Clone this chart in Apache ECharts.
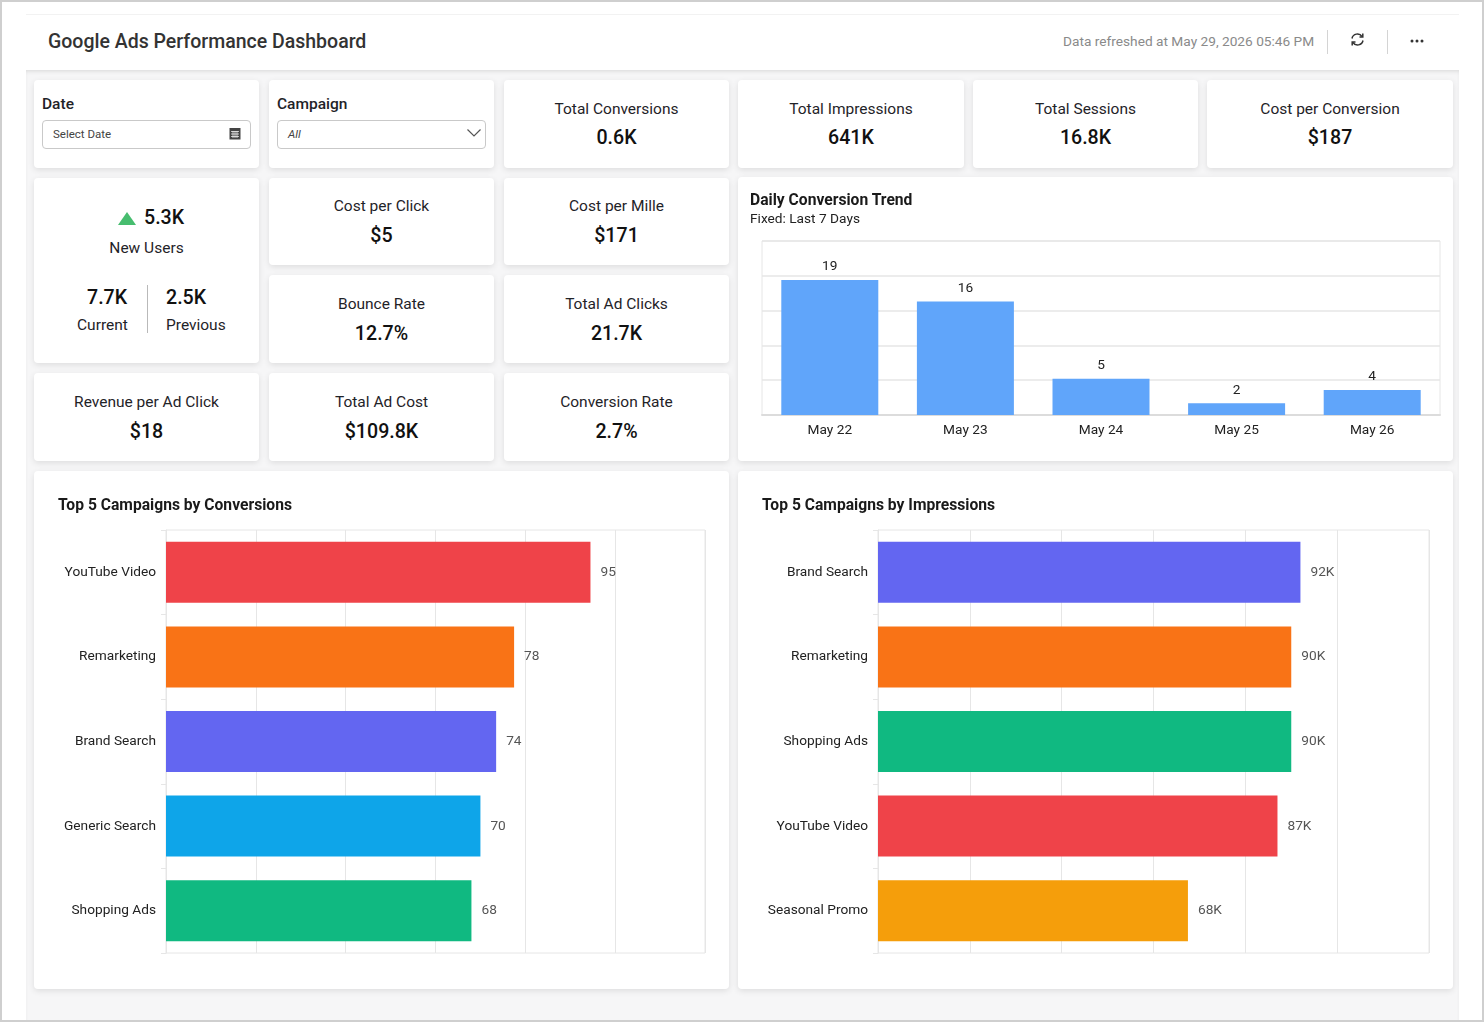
<!DOCTYPE html>
<html>
<head>
<meta charset="utf-8">
<title>Google Ads Performance Dashboard</title>
<script src="https://cdn.jsdelivr.net/npm/echarts@6/dist/echarts.min.js"></script>
<style>
	* { box-sizing: border-box; }
	html, body { margin: 0; padding: 0; background: #fff; }
	body { width: 1484px; height: 1022px; position: relative; overflow: hidden; font-family: Roboto, sans-serif; color: #1f2328; }
	.frame { position: absolute; left: 0; top: 0; width: 1484px; height: 1022px; border: 2px solid #cfcfcf; z-index: 9; pointer-events: none; }
	.topline { position: absolute; left: 26px; top: 14px; width: 1433px; height: 1px; background: #f2f2f2; }
	.content { position: absolute; left: 26px; top: 70px; width: 1433px; height: 950px; background: #f6f6f7; box-shadow: inset 0 3px 4px -2px #d6d6d6; }
	.title { position: absolute; left: 48px; top: 30px; font-size: 19.5px; font-weight: 500; color: #333; line-height: 24px; white-space: nowrap; }
	.refreshed { position: absolute; left: 1063px; top: 33px; font-size: 13.7px; color: #8a8a8a; line-height: 17px; white-space: nowrap; }
	.sep { position: absolute; top: 30px; width: 1px; height: 24px; background: #d4d4d4; }
	.card { position: absolute; background: #fff; border-radius: 4px; box-shadow: 0 2px 6px rgba(0, 0, 0, 0.1); }
	.kpi { text-align: center; }
	.kpi .name { position: absolute; left: 0; right: 0; font-size: 15.5px; line-height: 18px; }
	.kpi .val { position: absolute; left: 0; right: 0; font-size: 19.6px; font-weight: 500; line-height: 25px; color: #111; }
	.label { position: absolute; left: 8px; top: 15px; font-size: 15.5px; font-weight: 500; line-height: 18px; }
	.field { position: absolute; left: 8px; top: 40px; width: 209px; height: 29px; border: 1px solid #c9c9c9; border-radius: 4px; font-size: 11.5px; line-height: 27px; padding-left: 10px; color: #444; }
	.abs { position: absolute; white-space: nowrap; line-height: 20px; }
	.big { font-size: 19.6px; font-weight: 500; color: #111; }
	.chart { position: absolute; left: 0; top: 0; width: 100%; height: 100%; }
	.ctitle { position: absolute; font-size: 15.65px; font-weight: 700; line-height: 18px; color: #1a1a1a; white-space: nowrap; z-index: 2; }
	.csub { position: absolute; font-size: 13.7px; line-height: 17px; color: #222; white-space: nowrap; z-index: 2; }
</style>
</head>
<body>
<div class="frame"></div>
<div class="topline"></div>
<div class="content"></div>
<div class="title">Google Ads Performance Dashboard</div>
<div class="refreshed">Data refreshed at May 29, 2026 05:46 PM</div>
<div class="sep" style="left:1327px"></div>
<div class="sep" style="left:1387px"></div>
<svg class="abs" style="left:1350px;top:32px" width="15" height="15" viewBox="0 0 15 15" fill="none" stroke="#333" stroke-width="1.5">
	<path d="M2 6.5A5.5 5.5 0 0 1 12 4.5M13 8.5A5.5 5.5 0 0 1 3 10.5"/>
	<path d="M12.8 1.5V5H9.5M2.2 13.5V10H5.5"/>
</svg>
<svg class="abs" style="left:1410px;top:38px" width="15" height="6" viewBox="0 0 15 6" fill="#333">
	<circle cx="2" cy="3" r="1.5"/><circle cx="7" cy="3" r="1.5"/><circle cx="12" cy="3" r="1.5"/>
</svg>

<div class="card" style="left:34px;top:80px;width:225px;height:88px">
	<div class="label">Date</div>
	<div class="field">Select Date</div>
	<svg class="abs" style="left:195px;top:47px" width="12" height="13" viewBox="0 0 12 13">
		<rect x="0.5" y="1" width="11" height="11.5" fill="#444"/>
		<path d="M2 4.5h8M2 7h8M2 9.5h8M4 4v7M6 4v7M8 4v7" stroke="#fff" stroke-width="0.7"/>
	</svg>
</div>
<div class="card" style="left:269px;top:80px;width:225px;height:88px">
	<div class="label">Campaign</div>
	<div class="field" style="font-style:italic">All</div>
	<svg class="abs" style="left:197px;top:48px" width="16" height="10" viewBox="0 0 16 10" fill="none" stroke="#555" stroke-width="1.2">
		<path d="M1.5 1.5L8 8L14.5 1.5"/>
	</svg>
</div>

<div class="card" style="left:34px;top:178px;width:225px;height:185px">
	<svg class="abs" style="left:84px;top:34px" width="18" height="13" viewBox="0 0 18 13"><path d="M9 0L18 13H0Z" fill="#47bd6f"/></svg>
	<div class="abs big" style="left:110px;top:30px">5.3K</div>
	<div class="abs" style="left:0;width:225px;top:60px;text-align:center;font-size:15.5px">New Users</div>
	<div class="abs big" style="left:53px;top:110px">7.7K</div>
	<div class="abs" style="left:43px;top:137px;font-size:15.5px">Current</div>
	<div style="position:absolute;left:113px;top:107px;width:1px;height:48px;background:#b9b9b9"></div>
	<div class="abs big" style="left:132px;top:110px">2.5K</div>
	<div class="abs" style="left:132px;top:137px;font-size:15.5px">Previous</div>
</div>

<div id="kpis"></div>

<div class="card" style="left:738px;top:177px;width:715px;height:284px">
	<div class="ctitle" style="left:12px;top:14px">Daily Conversion Trend</div>
	<div class="csub" style="left:12px;top:33px">Fixed: Last 7 Days</div>
	<div class="chart trend"></div>
</div>
<div class="card" style="left:34px;top:471px;width:695px;height:518px">
	<div class="ctitle" style="left:24px;top:25px">Top 5 Campaigns by Conversions</div>
	<div class="chart conversions"></div>
</div>
<div class="card" style="left:738px;top:471px;width:715px;height:518px">
	<div class="ctitle" style="left:24px;top:25px">Top 5 Campaigns by Impressions</div>
	<div class="chart impressions"></div>
</div>

<script>
var kpiNames = ['Total Conversions', 'Total Impressions', 'Total Sessions', 'Cost per Conversion', 'Cost per Click', 'Cost per Mille', 'Bounce Rate', 'Total Ad Clicks', 'Revenue per Ad Click', 'Total Ad Cost', 'Conversion Rate'];
var kpiValues = ['0.6K', '641K', '16.8K', '$187', '$5', '$171', '12.7%', '21.7K', '$18', '$109.8K', '2.7%'];

var trendDays = ['May 22', 'May 23', 'May 24', 'May 25', 'May 26'];
var trendValues = [19.4, 16.3, 5.2, 1.7, 3.6];

var conversionNames = ['YouTube Video', 'Remarketing', 'Brand Search', 'Generic Search', 'Shopping Ads'];
var conversionValues = [94.5, 77.5, 73.5, 70, 68];
var conversionColors = ['#ef4349', '#f97316', '#6366f1', '#0ea5e9', '#10b981'];

var impressionNames = ['Brand Search', 'Remarketing', 'Shopping Ads', 'YouTube Video', 'Seasonal Promo'];
var impressionValues = [92, 90, 90, 87, 67.5];
var impressionColors = ['#6366f1', '#f97316', '#10b981', '#ef4349', '#f59e0b'];

var gridColor = '#e6e6e6';

// kpi cards
(function () {
	var boxes = [
		[504, 80, 225, 88, 20, 45], [738, 80, 226, 88, 20, 45], [973, 80, 225, 88, 20, 45], [1207, 80, 246, 88, 20, 45],
		[269, 178, 225, 87, 19, 45], [504, 178, 225, 87, 19, 45],
		[269, 275, 225, 88, 20, 46], [504, 275, 225, 88, 20, 46],
		[34, 373, 225, 88, 20, 46], [269, 373, 225, 88, 20, 46], [504, 373, 225, 88, 20, 46]
	];
	var html = '';
	for (var i = 0; i < kpiNames.length; i++) {
		var b = boxes[i];
		html += '<div class="card kpi" style="left:' + b[0] + 'px;top:' + b[1] + 'px;width:' + b[2] + 'px;height:' + b[3] + 'px">' +
			'<div class="name" style="top:' + b[4] + 'px">' + kpiNames[i] + '</div>' +
			'<div class="val" style="top:' + b[5] + 'px">' + kpiValues[i] + '</div></div>';
	}
	document.getElementById('kpis').innerHTML = html;
})();

// labels show whole numbers, the bars keep the length
function roundLabel(suffix) {
	return function (params) {
		return Math.round(params.value) + suffix;
	};
}

// daily trend
(function () {
	var myChart = echarts.init(document.querySelector('.trend'));
	var option = {
		animation: false,
		textStyle: { fontFamily: 'Roboto' },
		grid: { left: 24, top: 64, width: 678, height: 174, show: true, borderColor: gridColor, borderWidth: 1 },
		xAxis: {
			type: 'category',
			data: trendDays,
			axisLine: { lineStyle: { color: '#dcdcdc', width: 2 } },
			axisTick: { length: 4, lineStyle: { color: gridColor } },
			axisLabel: { color: '#222', fontSize: 13.7, margin: 9 }
		},
		yAxis: {
			type: 'value',
			min: 0,
			max: 25,
			interval: 5,
			axisLabel: { show: false },
			axisTick: { show: false },
			axisLine: { show: false },
			splitLine: { lineStyle: { color: gridColor, width: 1.5 } }
		},
		series: [
			{
				type: 'bar',
				data: trendValues,
				barWidth: 97,
				itemStyle: { color: '#60a5fa' },
				label: { show: true, position: 'top', color: '#222', fontSize: 13.7, distance: 6, formatter: roundLabel('') }
			}
		]
	};
	myChart.setOption(option);
})();

// top 5 bars
function drawTop(selector, names, values, colors, gridLeft, gridWidth, suffix) {
	var myChart = echarts.init(document.querySelector(selector));
	var data = [];
	for (var i = 0; i < values.length; i++) {
		data.push({ value: values[i], itemStyle: { color: colors[i] } });
	}
	var option = {
		animation: false,
		textStyle: { fontFamily: 'Roboto' },
		grid: { left: gridLeft, top: 59, width: gridWidth, height: 423, show: true, borderColor: gridColor, borderWidth: 1 },
		xAxis: {
			type: 'value',
			min: 0,
			max: 120,
			interval: 20,
			axisLabel: { show: false },
			axisTick: { show: false },
			axisLine: { show: false },
			splitLine: { lineStyle: { color: gridColor } }
		},
		yAxis: {
			type: 'category',
			inverse: true,
			data: names,
			axisLine: { show: true, lineStyle: { color: gridColor } },
			axisTick: { show: true, length: 5, lineStyle: { color: gridColor } },
			axisLabel: { color: '#222', fontSize: 13.7, margin: 10 }
		},
		series: [
			{
				type: 'bar',
				data: data,
				barWidth: 61,
				label: { show: true, position: 'right', distance: 10, color: '#555', fontSize: 13.7, formatter: roundLabel(suffix) }
			}
		]
	};
	myChart.setOption(option);
}
drawTop('.conversions', conversionNames, conversionValues, conversionColors, 132, 539, '');
drawTop('.impressions', impressionNames, impressionValues, impressionColors, 140, 551, 'K');
</script>
</body>
</html>
